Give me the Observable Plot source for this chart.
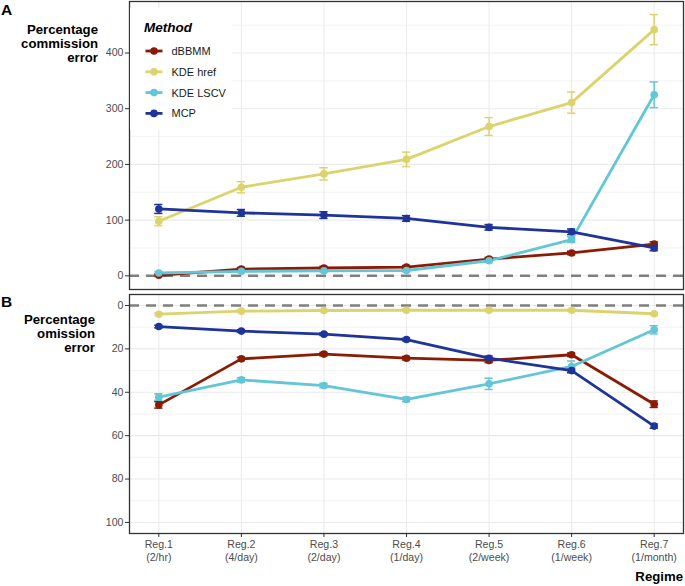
<!DOCTYPE html>
<html>
<head>
<meta charset="utf-8">
<script src="https://cdn.jsdelivr.net/npm/d3@7"></script>
<script src="https://cdn.jsdelivr.net/npm/@observablehq/plot@0.6"></script>
<style>
  html, body { margin: 0; padding: 0; background: #fff; }
  body { width: 685px; height: 586px; position: relative; overflow: hidden; font-family: "Liberation Sans", Arial, Helvetica, sans-serif; }
  .abs { position: absolute; }
  .ttl { font-weight: bold; font-size: 13.2px; color: #000; text-align: right; line-height: 14px; }
  .tag { font-weight: bold; font-size: 15.5px; color: #000; }
  svg g[aria-label$="tick"] { stroke: #333; }
</style>
</head>
<body>
<div id="topPanel" class="abs" style="left:0;top:0;"></div>
<div id="botPanel" class="abs" style="left:0;top:290px;"></div>
<div class="abs tag" style="left:1px;top:1px;">A</div>
<div class="abs tag" style="left:1px;top:293px;">B</div>
<div class="abs ttl" style="right:587px;top:23px;width:140px;">Percentage<br>commission<br>error</div>
<div class="abs ttl" style="right:590px;top:313px;width:140px;">Percentage<br>omission<br>error</div>
<div class="abs" style="right:2px;top:569px;font-weight:bold;font-size:13.2px;">Regime</div>
<div id="legend" class="abs" style="left:130px;top:8px;"></div>
<script>
// ---- data ----
const regimes = ["Reg.1\n(2/hr)", "Reg.2\n(4/day)", "Reg.3\n(2/day)", "Reg.4\n(1/day)", "Reg.5\n(2/week)", "Reg.6\n(1/week)", "Reg.7\n(1/month)"];
const methods = ["dBBMM", "KDE href", "KDE LSCV", "MCP"];
const colors = ["#8A1C05", "#DDD36C", "#62C6D6", "#1E349A"];

// Percentage commission error (mean, half-width of error bar)
const commDBBMM = [1, 12, 14, 15.5, 30, 41, 57];
const commDBBMMErr = [2, 3, 3, 3, 3, 3, 4];
const commHref = [98, 159, 183, 209, 268, 311, 442];
const commHrefErr = [8, 10, 11, 13, 16, 19, 27];
const commLSCV = [5, 8, 9, 9.5, 27, 65, 325];
const commLSCVErr = [2, 2, 2, 2, 3, 5, 23];
const commMCP = [120, 113, 109, 103, 87, 79, 50];
const commMCPErr = [8, 6, 6, 5, 5, 5, 5];

// Percentage omission error
const omDBBMM = [45.8, 24.6, 22.4, 24.3, 25.3, 22.7, 45.5];
const omDBBMMErr = [1.5, 0.8, 0.8, 0.8, 1.0, 0.8, 1.5];
const omHref = [4.0, 2.6, 2.3, 2.2, 2.2, 2.2, 3.8];
const omHrefErr = [0.5, 0.5, 0.5, 0.5, 0.5, 0.5, 0.5];
const omLSCV = [42.2, 34.3, 36.9, 43.3, 36.1, 28.1, 11.2];
const omLSCVErr = [1.5, 1.0, 1.0, 1.0, 2.6, 2.5, 1.9];
const omMCP = [9.7, 11.8, 13.2, 15.7, 24.3, 30.0, 55.6];
const omMCPErr = [0.6, 0.6, 0.6, 0.6, 1.0, 1.0, 1.0];

const commTicks = [0, 100, 200, 300, 400];
const commMinor = [50, 150, 250, 350, 450];
const omTicks = [0, 20, 40, 60, 80, 100];
const omMinor = [10, 30, 50, 70, 90];

// ---- build tables ----
function table(series) {
  const rows = [];
  series.forEach(([m, vals, errs]) => {
    vals.forEach((v, i) => rows.push({method: m, i, v, lo: v - errs[i], hi: v + errs[i]}));
  });
  return rows;
}
const comm = table([[methods[0], commDBBMM, commDBBMMErr], [methods[1], commHref, commHrefErr], [methods[2], commLSCV, commLSCVErr], [methods[3], commMCP, commMCPErr]]);
const om = table([[methods[0], omDBBMM, omDBBMMErr], [methods[1], omHref, omHrefErr], [methods[2], omLSCV, omLSCVErr], [methods[3], omMCP, omMCPErr]]);

const idx = regimes.map((_, i) => i);
const pad = 0.355, capW = 0.05;
const font = {fontFamily: "'Liberation Sans', Arial, Helvetica, sans-serif", fontSize: "10.6px", background: "transparent", overflow: "visible"};

function dataMarks(rows) {
  return [
    Plot.ruleX(rows, {x: "i", y1: "lo", y2: "hi", stroke: "method", strokeWidth: 1.5}),
    Plot.ruleY(rows, {y: "lo", x1: d => d.i - capW, x2: d => d.i + capW, stroke: "method", strokeWidth: 1.5}),
    Plot.ruleY(rows, {y: "hi", x1: d => d.i - capW, x2: d => d.i + capW, stroke: "method", strokeWidth: 1.5}),
    Plot.line(rows, {x: "i", y: "v", stroke: "method", z: "method", strokeWidth: 2.8}),
    Plot.dot(rows, {x: "i", y: "v", fill: "method", r: 3.8})
  ];
}
function gridMarks(major, minor) {
  return [
    Plot.ruleY(minor, {stroke: "#EBEBEB", strokeWidth: 0.6}),
    Plot.ruleY(major, {stroke: "#EBEBEB", strokeWidth: 1.1}),
    Plot.ruleX(idx, {stroke: "#EBEBEB", strokeWidth: 1.1}),
    Plot.ruleY([0], {stroke: "#7F7F7F", strokeWidth: 2.4, strokeDasharray: "10,7"})
  ];
}

const topChart = Plot.plot({
  width: 685, height: 290,
  marginLeft: 129, marginRight: 2, marginTop: 1, marginBottom: 1,
  style: font,
  x: {domain: [-pad, 6 + pad], axis: null},
  y: {domain: [-24.6, 492.5]},
  color: {domain: methods, range: colors},
  marks: [
    ...gridMarks(commTicks, commMinor),
    ...dataMarks(comm),
    Plot.axisY({ticks: commTicks, tickSize: 4, tickPadding: 2, label: null, color: "#4D4D4D"}),
    Plot.frame({stroke: "#333", strokeWidth: 1.3})
  ]
});
document.getElementById("topPanel").append(topChart);

const botChart = Plot.plot({
  width: 685, height: 296,
  marginLeft: 129, marginRight: 2, marginTop: 4, marginBottom: 53,
  style: font,
  x: {domain: [-pad, 6 + pad]},
  y: {domain: [-5.07, 105.1], reverse: true},
  color: {domain: methods, range: colors},
  marks: [
    ...gridMarks(omTicks, omMinor),
    ...dataMarks(om),
    Plot.axisY({ticks: omTicks, tickSize: 4, tickPadding: 2, label: null, color: "#4D4D4D"}),
    Plot.axisX({ticks: idx, tickFormat: i => regimes[i], tickSize: 4, tickPadding: 1.5, label: null, lineHeight: 1.2, color: "#4D4D4D"}),
    Plot.frame({stroke: "#333", strokeWidth: 1.3})
  ]
});
document.getElementById("botPanel").append(botChart);

// ---- legend ----
const lg = d3.select("#legend").append("svg").attr("width", 102).attr("height", 122)
  .style("font-family", "'Liberation Sans', Arial, Helvetica, sans-serif");
lg.append("rect").attr("width", 102).attr("height", 122).attr("fill", "#fff");
lg.append("text").attr("x", 14).attr("y", 24).attr("font-weight", "bold").attr("font-style", "italic")
  .attr("font-size", 13.5).text("Method");
methods.forEach((m, k) => {
  const y = 43 + k * 20.8;
  lg.append("line").attr("x1", 15.5).attr("x2", 32.5).attr("y1", y).attr("y2", y)
    .attr("stroke", colors[k]).attr("stroke-width", 2.8);
  lg.append("circle").attr("cx", 24).attr("cy", y).attr("r", 3.8).attr("fill", colors[k]);
  lg.append("text").attr("x", 41.5).attr("y", y + 4).attr("font-size", 11).attr("fill", "#1a1a1a").text(m);
});
</script>
</body>
</html>
